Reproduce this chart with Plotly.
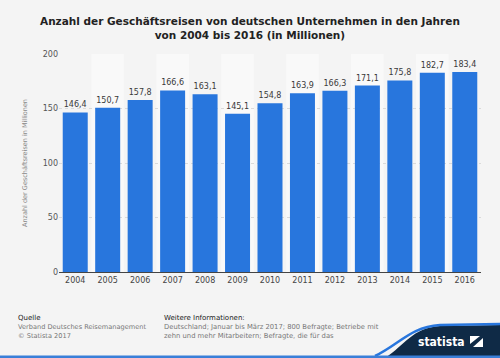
import plotly.graph_objects as go

years = ["2004", "2005", "2006", "2007", "2008", "2009", "2010",
         "2011", "2012", "2013", "2014", "2015", "2016"]
values = [146.4, 150.7, 157.8, 166.6, 163.1, 145.1, 154.8,
          163.9, 166.3, 171.1, 175.8, 182.7, 183.4]
labels = [f"{v:.1f}".replace(".", ",") for v in values]
y_ticks = [0, 50, 100, 150, 200]

W, H = 500, 358
L, R, T, B = 59, 19, 54, 86
PW, PH = W - L - R, H - T - B

def px(x):
    return (x - L) / PW

def py(y):
    return (H - B - y) / PH

FONT = "DejaVu Sans"
BLUE = "#2876dd"

fig = go.Figure()
fig.add_trace(go.Bar(
    x=years, y=values, text=labels, textposition="outside",
    marker=dict(color=BLUE, line=dict(width=0)),
    textfont=dict(family=FONT, size=8, color="#3a3a3a"),
    cliponaxis=False, hoverinfo="skip",
))

shapes = []
for i in range(len(years)):
    if i % 2 == 1:
        shapes.append(dict(type="rect", xref="x", yref="y", x0=i - 0.5, x1=i + 0.5,
                           y0=0, y1=200, fillcolor="#f9f9f9", line=dict(width=0), layer="below"))

navy = "#0f2a46"
shapes.append(dict(type="path", xref="paper", yref="paper",
                   path=(f"M {px(385)},{py(358)} C {px(405)},{py(345)} {px(412)},{py(328)} {px(440)},{py(326)} "
                         f"L {px(500)},{py(325)} L {px(500)},{py(358)} Z"),
                   fillcolor=navy, line=dict(width=0), layer="above"))
shapes.append(dict(type="path", xref="paper", yref="paper",
                   path=(f"M {px(375)},{py(356)} C {px(400)},{py(344)} {px(410)},{py(327)} {px(440)},{py(325)} "
                         f"L {px(500)},{py(324)}"),
                   fillcolor="rgba(0,0,0,0)", line=dict(width=2.5, color=BLUE), layer="above"))
shapes.append(dict(type="rect", xref="paper", yref="paper", x0=px(0), x1=px(500), y0=py(358), y1=py(355.5),
                   fillcolor="#3a7fd8", line=dict(width=0), layer="above"))
shapes.append(dict(type="rect", xref="paper", yref="paper", x0=px(470), x1=px(483), y0=py(347), y1=py(336),
                   fillcolor="white", line=dict(width=0), layer="above"))
shapes.append(dict(type="path", xref="paper", yref="paper",
                   path=f"M {px(470)},{py(344)} L {px(480)},{py(336)} L {px(483)},{py(336)} L {px(483)},{py(338)} L {px(473)},{py(347)} L {px(470)},{py(347)} Z",
                   fillcolor=navy, line=dict(width=0), layer="above"))

annotations = [
    dict(text="<b>Anzahl der Geschäftsreisen von deutschen Unternehmen in den Jahren<br>von 2004 bis 2016 (in Millionen)</b>",
         xref="paper", yref="paper", x=px(250), y=py(28), xanchor="center", yanchor="middle",
         showarrow=False, font=dict(family=FONT, size=10.5, color="#222222"), align="center"),
    dict(text="Quelle", xref="paper", yref="paper", x=px(16), y=py(318), xanchor="left", yanchor="middle",
         showarrow=False, font=dict(family=FONT, size=7, color="#222222")),
    dict(text="Verband Deutsches Reisemanagement<br>© Statista 2017", xref="paper", yref="paper",
         x=px(16), y=py(331), xanchor="left", yanchor="middle", align="left",
         showarrow=False, font=dict(family=FONT, size=6.6, color="#777777")),
    dict(text="Weitere Informationen:", xref="paper", yref="paper", x=px(162), y=py(318), xanchor="left", yanchor="middle",
         showarrow=False, font=dict(family=FONT, size=7, color="#222222")),
    dict(text="Deutschland; Januar bis März 2017; 800 Befragte; Betriebe mit<br>zehn und mehr Mitarbeitern; Befragte, die für das",
         xref="paper", yref="paper", x=px(162), y=py(331), xanchor="left", yanchor="middle", align="left",
         showarrow=False, font=dict(family=FONT, size=6.8, color="#777777")),
    dict(text="<b>statista</b>", xref="paper", yref="paper", x=px(467), y=py(342), xanchor="right", yanchor="middle",
         showarrow=False, font=dict(family="DejaVu Sans Condensed, Liberation Sans Narrow, Roboto", size=12, color="white")),
]

fig.update_layout(
    width=W, height=H,
    margin=dict(l=L, r=R, t=T, b=B, autoexpand=False),
    paper_bgcolor="#f4f4f4", plot_bgcolor="#f4f4f4",
    bargap=0.23, showlegend=False,
    shapes=shapes, annotations=annotations,
    font=dict(family=FONT),
)
fig.update_xaxes(type="category", range=[-0.5, 12.5], showgrid=False,
                 showline=True, linecolor="#444444", linewidth=1.2,
                 ticks="", tickfont=dict(family=FONT, size=8, color="#444444"))
fig.update_yaxes(range=[0, 200], tickvals=y_ticks, showgrid=True, gridcolor="#dadada",
                 griddash="dot", gridwidth=1, zeroline=False, showline=False,
                 tickfont=dict(family=FONT, size=8, color="#555555"),
                 title=dict(text="Anzahl der Geschäftsreisen in Millionen", standoff=14,
                            font=dict(family=FONT, size=6.5, color="#888888")))

fig.write_html("out.html", config={"displayModeBar": False},
               post_script="document.body.style.margin='0';document.body.style.padding='0';document.body.style.background='#f4f4f4';")
